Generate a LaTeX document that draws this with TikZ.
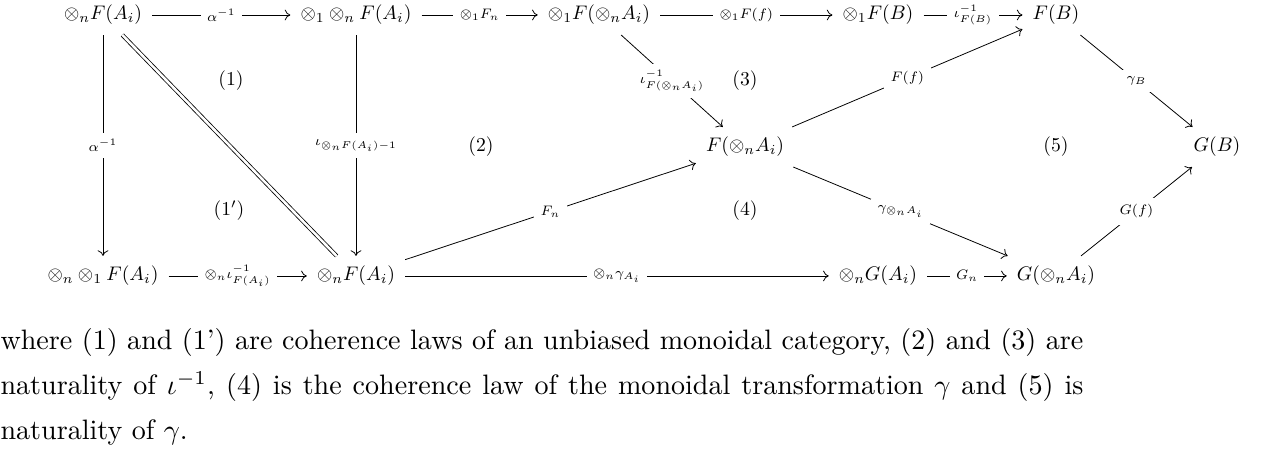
\documentclass[tikz,border=0pt]{standalone}
\usepackage{amsmath}
\usetikzlibrary{arrows.meta}

\tikzset{
  obj/.style={scale=0.7, inner sep=5pt},
  cell/.style={scale=0.7},
  lbl/.style={scale=0.7, fill=white, inner sep=3.3pt, font=\scriptsize},
  mor/.style={-{To[length=2pt,width=3.8pt]}, line width=0.28pt},
  iso/.style={double, double distance=0.9pt, line width=0.28pt},
}

\begin{document}
\begin{tikzpicture}[x=0.356pt, y=0.356pt]
  \useasboundingbox (0,0) rectangle (1266,461);
  % objects
  \node[obj] (A1) at (103,446) {$\otimes_nF(A_i)$};
  \node[obj] (A2) at (356,446) {$\otimes_1\otimes_nF(A_i)$};
  \node[obj] (A3) at (599,446) {$\otimes_1F(\otimes_nA_i)$};
  \node[obj] (A4) at (878,446) {$\otimes_1F(B)$};
  \node[obj] (A5) at (1056,446) {$F(B)$};
  \node[obj] (M)  at (745,314) {$F(\otimes_nA_i)$};
  \node[obj] (GB) at (1217,314) {$G(B)$};
  \node[obj] (C1) at (103,185) {$\otimes_n\otimes_1F(A_i)$};
  \node[obj] (C2) at (356,185) {$\otimes_nF(A_i)$};
  \node[obj] (C3) at (878,185) {$\otimes_nG(A_i)$};
  \node[obj] (C4) at (1056,185) {$G(\otimes_nA_i)$};
  % cells
  \node[cell] (r1)  at (231,380) {$(1)$};
  \node[cell] (r1b) at (229,250) {$(1')$};
  \node[cell] (r2)  at (481,314) {$(2)$};
  \node[cell] (r3)  at (745,380) {$(3)$};
  \node[cell] (r4)  at (745,250) {$(4)$};
  \node[cell] (r5)  at (1056,314) {$(5)$};
  % morphisms
  \draw[mor] (A1) -- node[lbl] {$\alpha^{-1}$} (A2);
  \draw[mor] (A2) -- node[lbl] {$\otimes_1F_n$} (A3);
  \draw[mor] (A3) -- node[lbl] {$\otimes_1F(f)$} (A4);
  \draw[mor] (A4) -- node[lbl] {$\iota^{-1}_{F(B)}$} (A5);
  \draw[mor] (A1) -- node[lbl] {$\alpha^{-1}$} (C1);
  \draw[iso] (A1) -- (C2);
  \draw[mor] (A2) -- node[lbl] {$\iota_{\otimes_nF(A_i)-1}$} (C2);
  \draw[mor] (A3) -- node[lbl] {$\iota^{-1}_{F(\otimes_nA_i)}$} (M);
  \draw[mor] (M) -- node[lbl] {$F(f)$} (A5);
  \draw[mor] (A5) -- node[lbl] {$\gamma_B$} (GB);
  \draw[mor] (C1) -- node[lbl] {$\otimes_n\iota^{-1}_{F(A_i)}$} (C2);
  \draw[mor] (C2) -- node[lbl] {$F_n$} (M);
  \draw[mor] (C2) -- node[lbl] {$\otimes_n\gamma_{A_i}$} (C3);
  \draw[mor] (C3) -- node[lbl] {$G_n$} (C4);
  \draw[mor] (M) -- node[lbl] {$\gamma_{\otimes_nA_i}$} (C4);
  \draw[mor] (C4) -- node[lbl] {$G(f)$} (GB);
  % text below
  \node[anchor=base west, inner sep=0pt, text width=385.5pt, align=justify,
        font=\fontsize{10}{16}\selectfont] (txt) at (0,111)
    {where (1) and (1') are coherence laws of an unbiased monoidal category, (2) and (3) are\linebreak
     naturality of $\iota^{-1}$, (4) is the coherence law of the monoidal transformation $\gamma$ and (5) is\linebreak
     naturality of $\gamma$.\par};
\end{tikzpicture}
\end{document}
